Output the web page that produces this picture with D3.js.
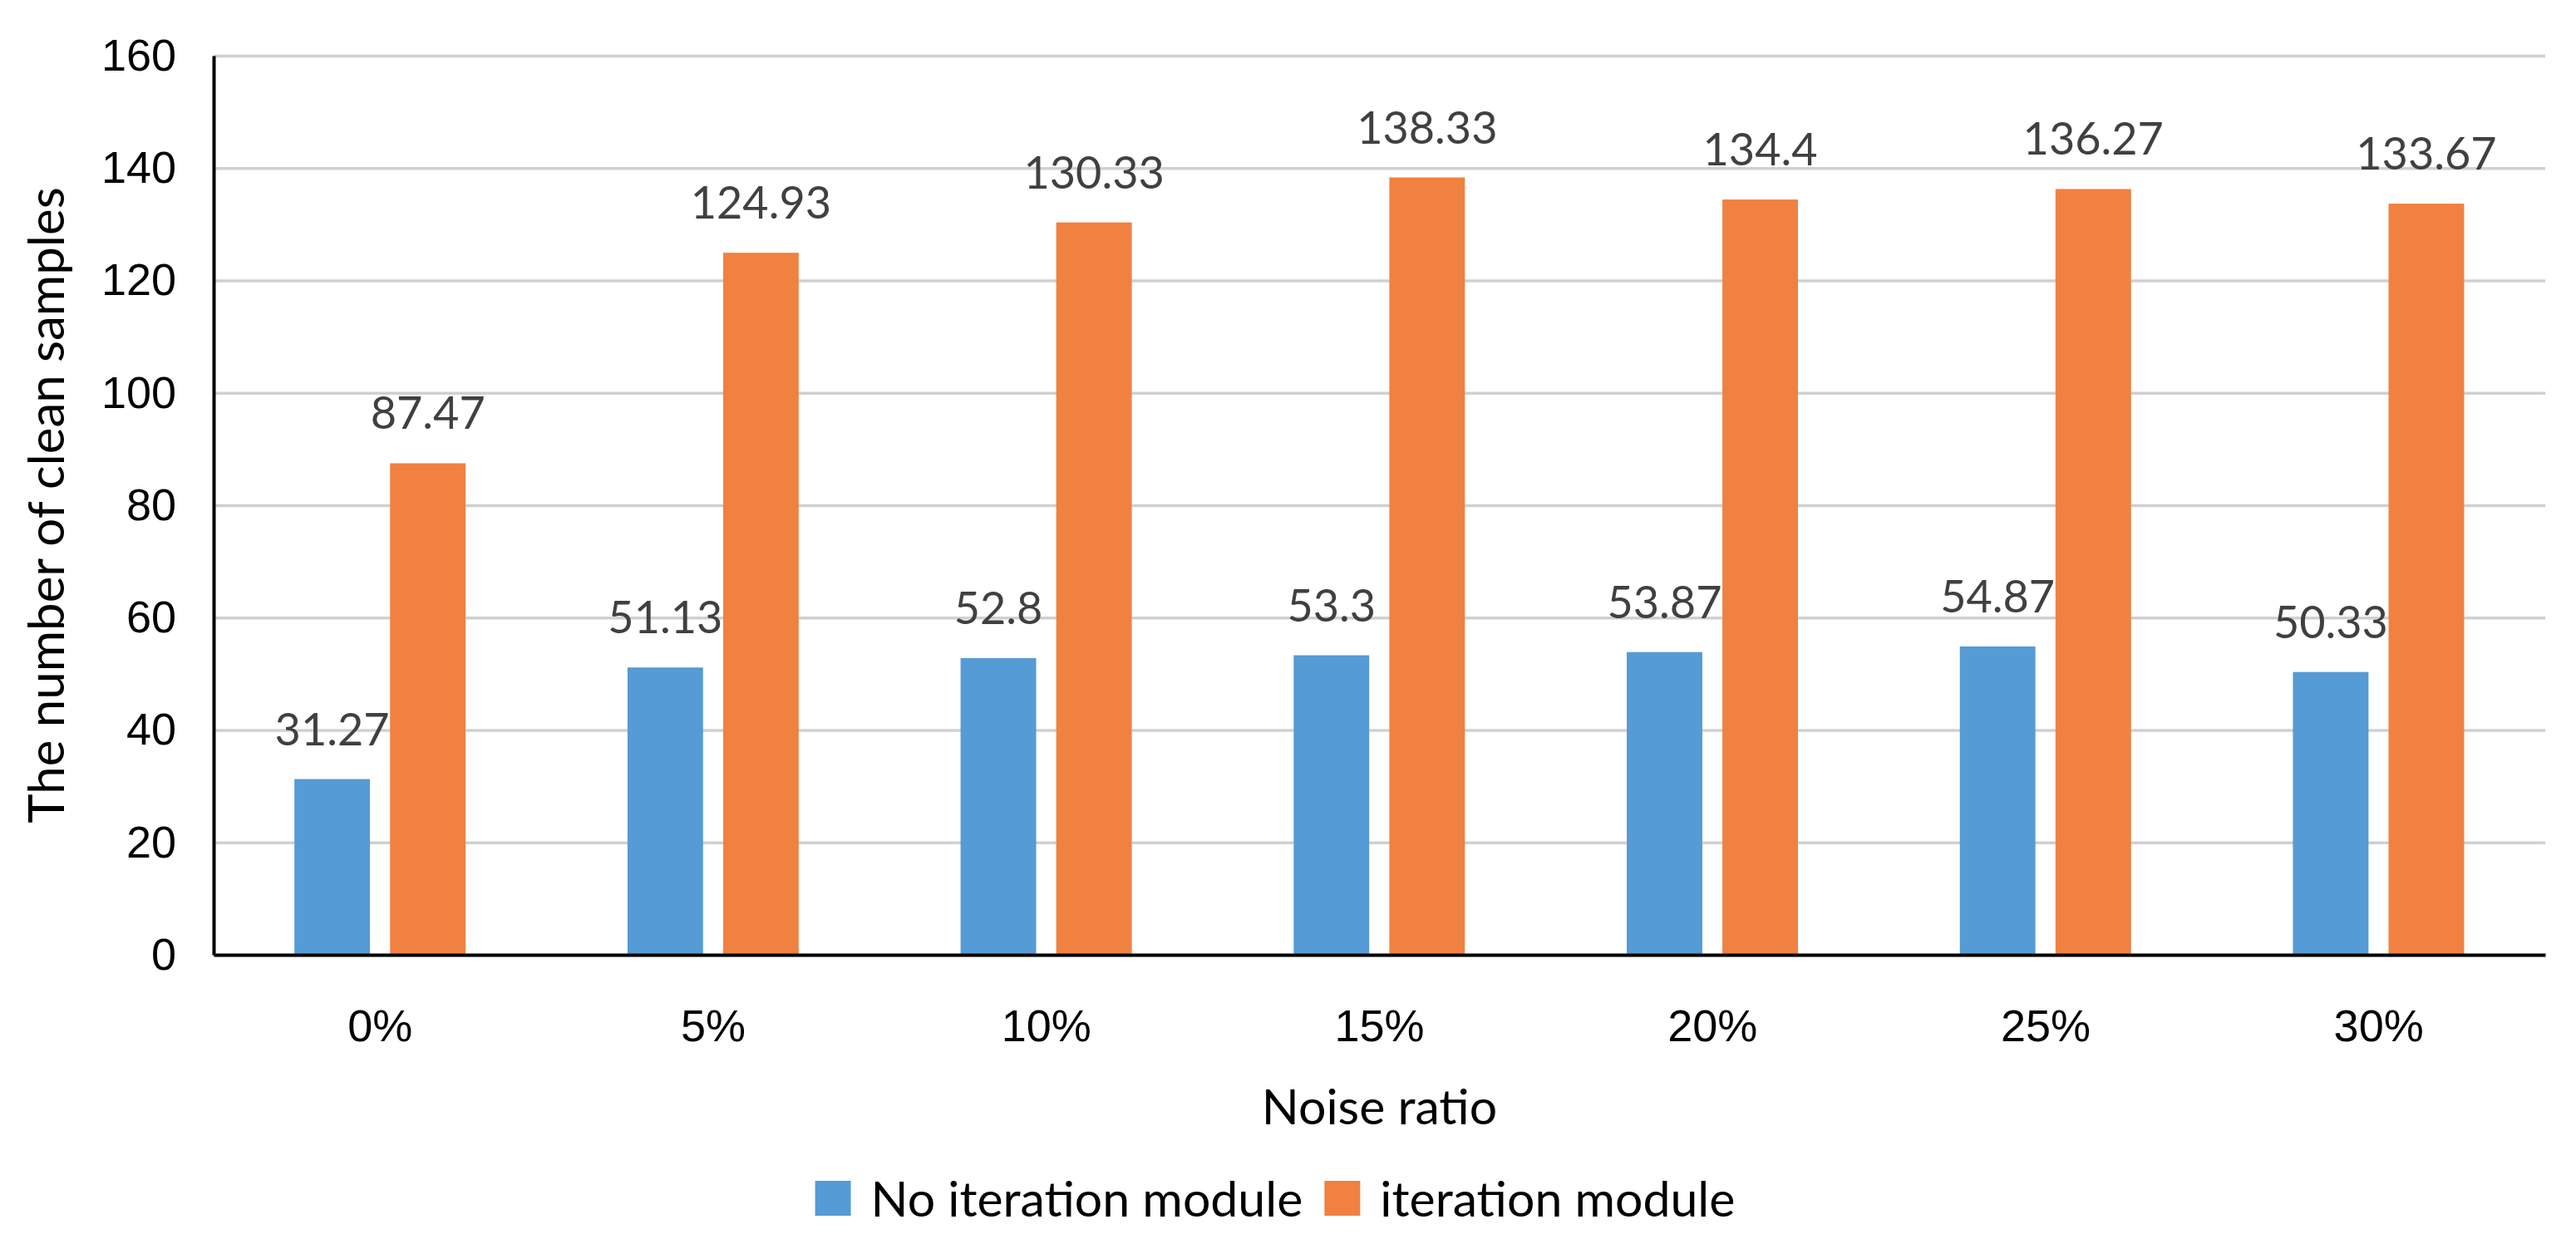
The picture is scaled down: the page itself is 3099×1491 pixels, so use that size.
<!DOCTYPE html>
<html>
<head>
<meta charset="utf-8">
<script src="https://cdn.jsdelivr.net/npm/d3@7"></script>
<style>
  body { margin: 0; background: #fff; }
  svg { display: block; font-family: Lato, 'Open Sans', sans-serif; }
</style>
</head>
<body>
<svg class="chart" width="3099" height="1491"></svg>
<script>
// Chart data
const categories = ['0%', '5%', '10%', '15%', '20%', '25%', '30%'];
const seriesNames = ['No iteration module', 'iteration module'];
const noIteration = [31.27, 51.13, 52.8, 53.3, 53.87, 54.87, 50.33];
const withIteration = [87.47, 124.93, 130.33, 138.33, 134.4, 136.27, 133.67];
const yTicks = [0, 20, 40, 60, 80, 100, 120, 140, 160];

const colors = ['#559bd5', '#f08141'];
const seriesValues = [noIteration, withIteration];

const margin = { top: 67, right: 37, bottom: 342, left: 257 };
const width = 3099 - margin.left - margin.right;
const height = 1491 - margin.top - margin.bottom;
const fontSize = 54;
const titleSize = 59;

const svg = d3.select('.chart');
const g = svg.append('g')
  .attr('transform', `translate(${margin.left},${margin.top})`);

// Scales
const x0 = d3.scaleBand()
  .domain(categories)
  .range([0, width]);

const bw = x0.bandwidth();
const x1 = d3.scaleBand()
  .domain(seriesNames)
  .range([bw * 0.2425, bw * 0.7565])
  .paddingInner(0.21);

const y = d3.scaleLinear()
  .domain([0, 160])
  .range([height, 0]);

// Gridlines along the Y axis
g.append('g')
  .attr('class', 'gridY')
  .call(d3.axisLeft(y).tickValues(yTicks).tickFormat('').tickSize(-width).tickSizeOuter(0))
  .call(s => s.select('.domain').remove())
  .selectAll('line')
  .attr('stroke', '#d0d0d0')
  .attr('stroke-width', 3.3);

// Bars
const groups = g.selectAll('.group')
  .data(categories)
  .enter().append('g')
  .attr('class', 'group')
  .attr('transform', d => `translate(${x0(d)},0)`);

groups.selectAll('rect')
  .data((d, i) => seriesNames.map((s, j) => ({ s, v: seriesValues[j][i], j })))
  .enter().append('rect')
  .attr('x', d => x1(d.s))
  .attr('y', d => y(d.v))
  .attr('width', x1.bandwidth())
  .attr('height', d => height - y(d.v))
  .attr('fill', d => colors[d.j]);

// Value labels
groups.selectAll('.label')
  .data((d, i) => seriesNames.map((s, j) => ({ s, v: seriesValues[j][i] })))
  .enter().append('text')
  .attr('class', 'label')
  .attr('x', d => x1(d.s) + x1.bandwidth() / 2)
  .attr('y', d => y(d.v) - 41)
  .attr('text-anchor', 'middle')
  .attr('fill', '#404040')
  .style('font-size', `${fontSize}px`)
  .text(d => d.v);

// Y axis
const yAxis = g.append('g')
  .attr('class', 'y axis')
  .call(d3.axisLeft(y).tickValues(yTicks).tickSize(0).tickSizeOuter(0).tickPadding(45));
yAxis.select('.domain').attr('stroke', '#000').attr('stroke-width', 4);
yAxis.selectAll('text')
  .attr('fill', '#000')
  .attr('font-family', null)
  .attr('font-size', null)
  .style('font-size', `${fontSize}px`);

// X axis
const xAxis = g.append('g')
  .attr('class', 'x axis')
  .attr('transform', `translate(0,${height})`)
  .call(d3.axisBottom(x0).tickSize(0).tickSizeOuter(0));
xAxis.select('.domain').attr('stroke', '#000').attr('stroke-width', 4);
xAxis.selectAll('text')
  .attr('y', 104)
  .attr('dy', null)
  .attr('fill', '#000')
  .attr('font-family', null)
  .attr('font-size', null)
  .style('font-size', `${fontSize}px`);

// Axis titles
svg.append('text')
  .attr('transform', `translate(77,${margin.top + height / 2})rotate(-90)`)
  .attr('text-anchor', 'middle')
  .style('font-size', `${titleSize + 1}px`)
  .text('The number of clean samples');

svg.append('text')
  .attr('x', margin.left + width / 2)
  .attr('y', 1353)
  .attr('text-anchor', 'middle')
  .style('font-size', `${titleSize}px`)
  .text('Noise ratio');

// Legend
const legend = svg.append('g').attr('class', 'legend');
const items = legend.selectAll('.item')
  .data(seriesNames)
  .enter().append('g')
  .attr('class', 'item');

items.append('rect')
  .attr('y', 1421)
  .attr('width', 43)
  .attr('height', 42)
  .attr('fill', (d, i) => colors[i]);

items.append('text')
  .attr('x', 67)
  .attr('y', 1464)
  .style('font-size', `${titleSize}px`)
  .text(d => d);

// Centre the legend items under the chart
const widths = [];
items.each(function () {
  widths.push(67 + d3.select(this).select('text').node().getComputedTextLength());
});
let offset = 1534 - (d3.sum(widths) + 26) / 2;
items.attr('transform', (d, i) => {
  const t = `translate(${offset},0)`;
  offset += widths[i] + 26;
  return t;
});
</script>
</body>
</html>
